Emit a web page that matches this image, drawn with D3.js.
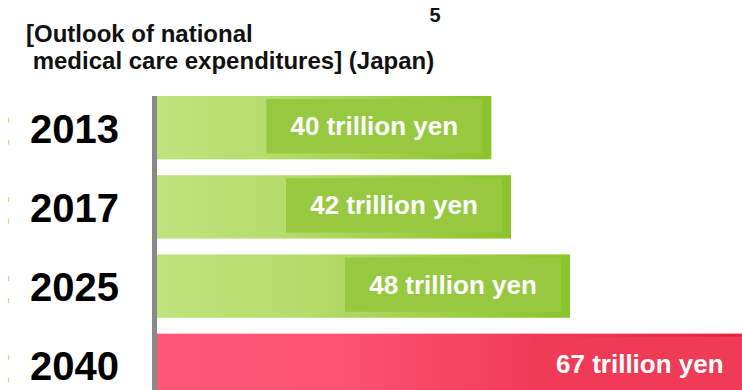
<!DOCTYPE html>
<html>
<head>
<meta charset="utf-8">
<script src="https://cdn.jsdelivr.net/npm/d3@7"></script>
<style>
  html, body { margin: 0; padding: 0; background: #fff; }
  svg { display: block; font-family: "Liberation Sans", Arial, sans-serif; }
</style>
</head>
<body>
<svg id="chart"></svg>
<script>
  // data
  var years = ["2013", "2017", "2025", "2040"];
  var costs = [40, 42, 48, 67]; // trillion yen
  var labels = ["40 trillion yen", "42 trillion yen", "48 trillion yen", "67 trillion yen"];
  var highlight = ["2040"];
  var titleLines = ["[Outlook of national", " medical care expenditures] (Japan)"];
  var pageNo = "5";

  var svgWidth = 742, svgHeight = 390;
  var svg = d3.select("#chart")
      .attr("width", svgWidth)
      .attr("height", svgHeight);

  var data = years.map(function(y, i) {
    return { year: y, value: costs[i], label: labels[i] };
  });

  // value axis does not start at zero in the original
  var x = d3.scaleLinear()
      .domain([6, 48])
      .range([157, 570]);

  var y = d3.scaleBand()
      .domain(years)
      .range([96, 397])
      .paddingInner(0.2);

  // gradients
  var defs = svg.append("defs");
  var green = defs.append("linearGradient").attr("id", "gGreen");
  green.append("stop").attr("offset", "0%").attr("stop-color", "#bfe37d");
  green.append("stop").attr("offset", "35%").attr("stop-color", "#b5dd6c");
  green.append("stop").attr("offset", "100%").attr("stop-color", "#8bc32a");
  var red = defs.append("linearGradient").attr("id", "gRed");
  red.append("stop").attr("offset", "0%").attr("stop-color", "#fd5677");
  red.append("stop").attr("offset", "30%").attr("stop-color", "#fc5371");
  red.append("stop").attr("offset", "100%").attr("stop-color", "#e61f3e");

  // title
  svg.append("text")
      .attr("x", 26)
      .attr("y", 42)
      .attr("font-size", 24)
      .attr("font-weight", "bold")
      .attr("fill", "#111")
      .style("white-space", "pre")
      .selectAll("tspan")
      .data(titleLines)
      .join("tspan")
      .attr("x", 26)
      .attr("dy", function(d, i) { return i === 0 ? 0 : 27; })
      .text(function(d) { return d; });

  svg.append("text")
      .attr("x", 435)
      .attr("y", 22)
      .attr("text-anchor", "middle")
      .attr("font-size", 20)
      .attr("font-weight", "bold")
      .attr("fill", "#111")
      .text(pageNo);

  // faint orange marks at the left edge
  var marks = svg.append("g");
  years.forEach(function(yr) {
    var c = y(yr) + y.bandwidth() / 2;
    [-10, 12].forEach(function(off) {
      marks.append("rect")
          .attr("x", 8)
          .attr("y", c + off)
          .attr("width", 1.2)
          .attr("height", 5)
          .attr("fill", "#f3c98a");
    });
  });

  // bars
  var g = svg.append("g");
  g.selectAll("rect.bar")
      .data(data)
      .join("rect")
      .attr("class", "bar")
      .attr("x", x(6))
      .attr("y", function(d) { return y(d.year); })
      .attr("width", function(d) { return x(d.value) - x(6); })
      .attr("height", y.bandwidth())
      .attr("fill", function(d) { return highlight.indexOf(d.year) >= 0 ? "url(#gRed)" : "url(#gGreen)"; });

  // label boxes
  var boxW = 216;
  g.selectAll("rect.box")
      .data(data)
      .join("rect")
      .attr("class", "box")
      .attr("x", function(d) { return x(d.value) - 9 - boxW; })
      .attr("y", function(d) { return y(d.year) + 3; })
      .attr("width", boxW)
      .attr("height", y.bandwidth() - 9)
      .attr("fill", function(d) { return highlight.indexOf(d.year) >= 0 ? "#ef3b56" : "#96c93f"; });

  g.selectAll("text.val")
      .data(data)
      .join("text")
      .attr("class", "val")
      .attr("x", function(d) { return x(d.value) - 9 - boxW / 2; })
      .attr("y", function(d) { return y(d.year) + 3 + (y.bandwidth() - 9) / 2 + 9; })
      .attr("text-anchor", "middle")
      .attr("font-size", 26)
      .attr("font-weight", "bold")
      .attr("fill", "#fff")
      .text(function(d) { return d.label; });

  // category labels
  g.selectAll("text.year")
      .data(data)
      .join("text")
      .attr("class", "year")
      .attr("x", 30)
      .attr("y", function(d) { return y(d.year) + y.bandwidth() / 2 + 15; })
      .attr("font-size", 40)
      .attr("font-weight", "bold")
      .attr("fill", "#000")
      .text(function(d) { return d.year; });

  // vertical axis line
  svg.append("rect")
      .attr("x", 152)
      .attr("y", 96)
      .attr("width", 5)
      .attr("height", svgHeight - 96)
      .attr("fill", "#898989");
</script>
</body>
</html>
